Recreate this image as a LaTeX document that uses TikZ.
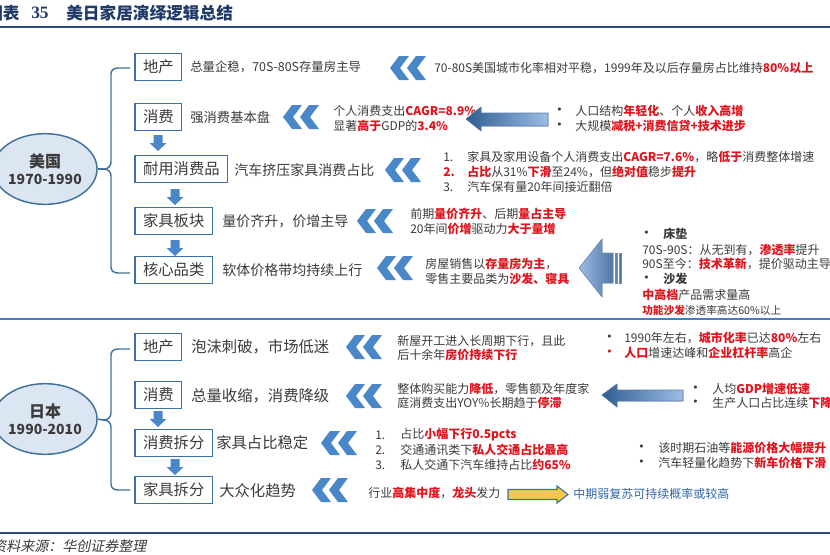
\documentclass[tikz,border=0pt]{standalone}
\usepackage{fontspec}
\setmainfont{Noto Sans CJK SC}
\newfontfamily\titlelatin{Liberation Serif}
\newfontfamily\bulfont{DejaVu Sans}
\newfontfamily\slantfont[FakeSlant=0.2]{Noto Sans CJK SC}
\usetikzlibrary{shapes.geometric}
\definecolor{navy}{HTML}{1F3A68}
\definecolor{linenavy}{HTML}{2B4C7E}
\definecolor{sepblue}{HTML}{4A7BC8}
\definecolor{boxblue}{HTML}{3E6FA8}
\definecolor{chevblue}{HTML}{4A87C9}
\definecolor{brkblue}{HTML}{41719C}
\definecolor{ellfill}{HTML}{DCE6F2}
\definecolor{txtgray}{HTML}{3B3B3B}
\definecolor{hired}{HTML}{E0141E}
\definecolor{bluetxt}{HTML}{3466A8}
\definecolor{arrdark}{HTML}{2F5E93}
\definecolor{arrlight}{HTML}{9DBDE5}
\definecolor{yel}{HTML}{F5C945}
\newcommand\hl[1]{{\color{hired}\bfseries #1}}
\newcommand\bul{{\bulfont\fontsize{8}{9}\selectfont •}}
\tikzset{
  boxnode/.style={draw=boxblue, line width=1.1pt, fill=white, inner xsep=6pt, inner ysep=0pt,
    minimum height=20pt, anchor=west, outer sep=0pt, text=txtgray, font=\fontsize{11.5}{12}\selectfont},
  sm/.style={anchor=west, inner sep=0pt, text=txtgray, font=\fontsize{9}{10}\selectfont},
  descA/.style={anchor=west, inner sep=0pt, text=txtgray, font=\fontsize{10.5}{12}\selectfont},
  descB/.style={anchor=west, inner sep=0pt, text=txtgray, font=\fontsize{11.5}{12}\selectfont},
  ellnode/.style={ellipse, draw=brkblue, line width=1.1pt, fill=ellfill, minimum width=63pt,
    minimum height=53pt, inner sep=0pt, align=center, text=txtgray},
  brk/.style={draw=brkblue, line width=1.1pt},
  bigarr/.style={left color=arrdark, right color=arrlight, draw=arrdark!80, line width=0.4pt},
  darr/.pic={\fill[chevblue] (-4.5,0) -- (4.5,0) -- (4.5,8) -- (8.5,8) -- (0,16) -- (-8.5,8) -- (-4.5,8) -- cycle;},
  chev/.pic={
    \fill[chevblue] (0,0) -- (9,-12) -- (19,-12) -- (10,0) -- (19,12) -- (9,12) -- cycle;
    \fill[chevblue] (17,0) -- (26,-12) -- (36,-12) -- (27,0) -- (36,12) -- (26,12) -- cycle;}
}
\begin{document}
\begin{tikzpicture}[x=0.75pt,y=-0.75pt]
\useasboundingbox (0,0) rectangle (830,554);
\fill[white] (0,0) rectangle (830,554);

% title
\node[anchor=west, inner sep=0pt, text=navy, font=\fontsize{12.5}{14}\selectfont\bfseries] (t1) at (-14,13) {图表};
\node[anchor=west, inner sep=0pt, text=navy, font=\fontsize{13}{14}\selectfont\titlelatin\bfseries] (t2) at (31,13) {35};
\node[anchor=west, inner sep=0pt, text=navy, font=\fontsize{12.5}{14}\selectfont\bfseries] (t3) at (66,13) {美日家居演绎逻辑总结};
\draw[linenavy, line width=1.6pt] (0,27) -- (830,27);
\draw[sepblue, line width=1.5pt] (0,319) -- (830,319);
\draw[linenavy, line width=1.6pt] (0,533) -- (830,533);
\node[anchor=west, inner sep=0pt, text=txtgray, font=\fontsize{10.5}{12}\selectfont\slantfont] (src) at (-8,546) {资料来源：华创证券整理};

% ===== USA =====
\node[ellnode] (us) at (45,169) {{\fontsize{12}{14}\selectfont\bfseries 美国}\\[1pt]{\fontsize{10.5}{12}\selectfont\bfseries 1970-1990}};
\coordinate (usmid) at (104,169);
\draw[brk] (us.east) -- (usmid);
\draw[brk] (130,68) -- (118,68) .. controls (114,68) and (111,70) .. (111,74) -- (111,162)
  .. controls (111,166) and (108,169) .. (usmid) .. controls (108,169) and (111,172) .. (111,176)
  -- (111,267) .. controls (111,271) and (114,273) .. (118,273) -- (130,273);

\node[boxnode] (u1) at (135,67) {地产};
\node[boxnode] (u2) at (135,117) {消费};
\node[boxnode] (u3) at (135,169) {耐用消费品};
\node[boxnode] (u4) at (135,221) {家具板块};
\node[boxnode] (u5) at (135,270) {核心品类};
\pic at (158,135) {darr};
\pic at (175,189) {darr};
\pic at (175,240) {darr};

\node[sm, font=\fontsize{9.3}{10}\selectfont] (u1d) at (190,67) {总量企稳，70S-80S存量房主导};
\node[descA, font=\fontsize{10}{12}\selectfont] (u2d) at (190,117) {强消费基本盘};
\node[descA] (u3d) at (234,170) {汽车挤压家具消费占比};
\node[descA] (u4d) at (222,221) {量价齐升，价增主导};
\node[descA] (u5d) at (222,270) {软体价格带均持续上行};

\pic at (390,68) {chev};
\pic at (283,117) {chev};
\pic at (385,170) {chev};
\pic at (357,221) {chev};
\pic at (377,268) {chev};

\node[sm] (u1r) at (434,68) {70-80S美国城市化率相对平稳，1999年及以后存量房占比维持\hl{80\%以上}};

\node[sm] (u2a) at (333,111) {个人消费支出\hl{CAGR=8.9\%}};
\node[sm] (u2b) at (333,126) {显著\hl{高于}GDP的\hl{3.4\%}};
\fill[bigarr] (466,119) -- (481,107) -- (481,113) -- (548,113) -- (548,126) -- (481,126) -- (481,131) -- cycle;
\node[sm] (u2c) at (556,111) {\bul};
\node[sm] (u2e) at (575,111) {人口结构\hl{年轻化}、个人\hl{收入高增}};
\node[sm] (u2f) at (556,126) {\bul};
\node[sm] (u2g) at (575,126) {大规模\hl{减税+消费信贷+技术进步}};

\node[sm] (u3n1) at (443,157) {1.};
\node[sm] (u3a) at (467,157) {家具及家用设备个人消费支出\hl{CAGR=7.6\%}，略\hl{低于}消费整体增速};
\node[sm] (u3n2) at (443,172) {\hl{2.}};
\node[sm] (u3b) at (467,172) {\hl{占比}从31\%\hl{下滑}至24\%，但\hl{绝对值}稳步\hl{提升}};
\node[sm] (u3n3) at (443,187) {3.};
\node[sm] (u3c) at (467,187) {汽车保有量20年间接近翻倍};

\node[sm] (u4a) at (410,214) {前期\hl{量价齐升}、后期\hl{量占主导}};
\node[sm] (u4b) at (410,229) {20年间\hl{价增}驱动力\hl{大于量增}};

\node[sm] (u5a) at (425,264) {房屋销售以\hl{存量房为主}，};
\node[sm] (u5b) at (425,279) {零售主要品类为\hl{沙发、寝具}};

\fill[left color=arrlight, right color=arrdark!85, draw=arrdark!70, line width=0.4pt]
  (579,268) -- (602,239) -- (602,253) -- (613,253) -- (613,283) -- (602,283) -- (602,297) -- cycle;
\fill[arrdark!75, draw=arrdark!70, line width=0.4pt] (615,253) rectangle (617.5,283);
\fill[arrdark!85, draw=arrdark!70, line width=0.4pt] (619.5,253) rectangle (621.5,283);

\node[sm] (u6a) at (643,234) {\bul};
\node[sm] (u6b) at (663,234) {\bfseries 床垫};
\node[sm] (u6c) at (642,250) {70S-90S：从无到有，\hl{渗透率}提升};
\node[sm] (u6d) at (642,264) {90S至今：\hl{技术革新}，提价驱动主导};
\node[sm] (u6e) at (643,279) {\bul};
\node[sm] (u6f) at (663,279) {\bfseries 沙发};
\node[sm] (u6g) at (642,295) {\hl{中高档}产品需求量高};
\node[sm, font=\fontsize{8}{9}\selectfont] (u6h) at (642,310) {\hl{功能沙发}渗透率高达60\%以上};

% ===== Japan =====
\node[ellnode] (jp) at (45,419) {{\fontsize{12}{14}\selectfont\bfseries 日本}\\[1pt]{\fontsize{10.5}{12}\selectfont\bfseries 1990-2010}};
\coordinate (jpmid) at (104,420);
\draw[brk] (jp.east) -- (jpmid);
\draw[brk] (130,349) -- (118,349) .. controls (114,349) and (111,351) .. (111,355) -- (111,413)
  .. controls (111,417) and (108,420) .. (jpmid) .. controls (108,420) and (111,423) .. (111,427)
  -- (111,484) .. controls (111,488) and (114,490) .. (118,490) -- (130,490);

\node[boxnode] (j1) at (135,347) {地产};
\node[boxnode] (j2) at (135,395) {消费};
\node[boxnode] (j3) at (135,443) {消费拆分};
\node[boxnode] (j4) at (135,490) {家具拆分};
\pic at (158,411) {darr};
\pic at (175,459) {darr};

\node[descB] (j1d) at (191,347) {泡沫刺破，市场低迷};
\node[descB] (j2d) at (191,396) {总量收缩，消费降级};
\node[descB] (j3d) at (216,443) {家具占比稳定};
\node[descB] (j4d) at (219,491) {大众化趋势};

\pic at (346,347) {chev};
\pic at (346,396) {chev};
\pic at (321,443) {chev};
\pic at (312,490) {chev};

\node[sm] (j1a) at (397,341) {新屋开工进入长周期下行，且此};
\node[sm] (j1b) at (397,355) {后十余年\hl{房价持续下行}};
\node[sm] (j1c) at (606,338) {\bul};
\node[sm] (j1e) at (624,338) {1990年左右，\hl{城市化率}已达\hl{80\%}左右};
\node[sm] (j1f) at (606,353) {\color{hired}\bul};
\node[sm] (j1g) at (624,353) {\hl{人口}增速达峰和\hl{企业杠杆率}高企};

\node[sm] (j2a) at (397,389) {整体购买能力\hl{降低}，零售额及年度家};
\node[sm] (j2b) at (397,403) {庭消费支出YOY\%长期趋于\hl{停滞}};
\fill[bigarr] (602,395) -- (617,384) -- (617,390) -- (683,390) -- (683,401) -- (617,401) -- (617,407) -- cycle;
\node[sm] (j2c) at (692,389) {\bul};
\node[sm] (j2e) at (712,389) {人均\hl{GDP增速低速}};
\node[sm] (j2f) at (692,403) {\bul};
\node[sm] (j2g) at (712,403) {生产人口占比连续\hl{下降}};

\node[sm] (j3n1) at (375,435) {1.};
\node[sm] (j3a) at (400,435) {占比\hl{小幅下行0.5pcts}};
\node[sm] (j3n2) at (375,450) {2.};
\node[sm] (j3b) at (400,450) {交通通讯类下\hl{私人交通占比最高}};
\node[sm] (j3n3) at (375,465) {3.};
\node[sm] (j3c) at (400,465) {私人交通下汽车维持占比\hl{约65\%}};
\node[sm] (j3d) at (638,448) {\bul};
\node[sm] (j3e) at (658,448) {该时期石油等\hl{能源价格大幅提升}};
\node[sm] (j3f) at (638,463) {\bul};
\node[sm] (j3g) at (658,463) {汽车轻量化趋势下\hl{新车价格下滑}};

\node[sm] (j4a) at (368,493) {行业\hl{高集中度}，\hl{龙头}发力};
\fill[yel, draw=boxblue, line width=0.8pt] (508,489.5) -- (557,489.5) -- (557,486) -- (568,494.5) -- (557,503) -- (557,499.5) -- (508,499.5) -- cycle;
\node[sm, text=bluetxt] (j4b) at (573,494) {中期弱复苏可持续概率或较高};
\end{tikzpicture}
\end{document}
